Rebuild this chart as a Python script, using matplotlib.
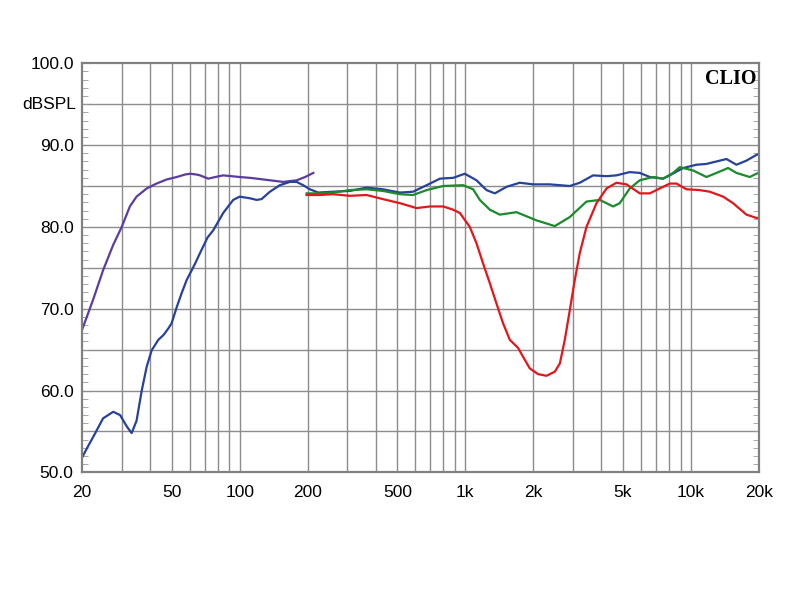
import matplotlib
matplotlib.use("Agg")
import matplotlib.pyplot as plt
from matplotlib.ticker import FixedLocator, NullFormatter, MultipleLocator

# ---- data ----
purple_f = [20, 22.4, 24.8, 27.5, 30.0, 32.6, 34.9, 38.7, 42.8, 47.5, 52.6, 57.2, 60.2, 64.5, 66.7, 72.6, 78, 84.5, 92, 100, 111, 119, 136, 156, 167, 179, 195, 212]
purple_db = [67.4, 71.1, 74.7, 77.8, 80.0, 82.5, 83.7, 84.7, 85.3, 85.8, 86.1, 86.4, 86.5, 86.4, 86.3, 85.9, 86.1, 86.3, 86.2, 86.1, 86.0, 85.9, 85.7, 85.5, 85.6, 85.7, 86.1, 86.6]

blue_f = [20, 21.0, 22.8, 24.8, 27.5, 29.5, 31.6, 33.2, 34.9, 36.8, 38.7, 40.7, 43.6, 46.0, 48.3, 49.9, 52.6, 55.3, 58.2, 63.4, 66.7, 72.0, 76.4, 84.5, 93.6, 100, 111, 118.9, 125, 136.1, 150.7, 167, 178.8, 191.2, 204.7, 222.9, 259, 308, 365, 431, 513, 587, 674, 772, 884, 995, 1121, 1242, 1352, 1523, 1744, 1998, 2369, 2905, 3217, 3685, 4226, 4678, 5358, 5935, 6574, 7529, 8061, 9233, 10586, 11722, 12981, 14375, 15918, 17626, 19516, 20000]
blue_db = [51.8, 52.9, 54.7, 56.6, 57.4, 57.0, 55.6, 54.8, 56.3, 60.0, 62.9, 64.9, 66.2, 66.8, 67.6, 68.2, 70.2, 71.9, 73.5, 75.5, 76.8, 78.7, 79.6, 81.7, 83.3, 83.7, 83.5, 83.3, 83.4, 84.3, 85.1, 85.5, 85.5, 85.1, 84.6, 84.2, 84.3, 84.4, 84.8, 84.6, 84.2, 84.3, 85.1, 85.9, 86.0, 86.5, 85.7, 84.5, 84.1, 84.9, 85.4, 85.2, 85.2, 85.0, 85.4, 86.3, 86.2, 86.3, 86.7, 86.6, 86.1, 85.9, 86.3, 87.2, 87.6, 87.7, 88.0, 88.3, 87.6, 88.1, 88.8, 88.9]

green_f = [198, 226.7, 259, 308, 365, 431, 513, 587, 674, 798, 978, 1083, 1160, 1285, 1422, 1687, 2068, 2493, 2905, 3445, 3946, 4520, 4838, 5358, 5935, 6798, 7529, 8335, 8925, 10229, 11722, 12981, 14620, 15918, 18237, 19516, 20000]
green_db = [84.1, 84.1, 84.2, 84.5, 84.6, 84.4, 84.0, 83.9, 84.5, 85.0, 85.1, 84.6, 83.3, 82.1, 81.5, 81.8, 80.8, 80.1, 81.2, 83.1, 83.3, 82.5, 82.9, 84.7, 85.7, 86.1, 85.9, 86.6, 87.3, 86.9, 86.1, 86.6, 87.2, 86.6, 86.1, 86.5, 86.6]

red_f = [198, 226.7, 259, 308, 365, 431, 513, 608, 697, 798, 884, 946, 1047, 1121, 1200, 1285, 1376, 1471, 1575, 1715, 1805, 1932, 2103, 2291, 2493, 2625, 2761, 2905, 3057, 3217, 3445, 3816, 4226, 4678, 5183, 5935, 6574, 7278, 8061, 8630, 9556, 10953, 12128, 13894, 15379, 17626, 19516, 20000]
red_db = [83.9, 83.9, 84.0, 83.8, 83.9, 83.4, 82.9, 82.3, 82.5, 82.5, 82.1, 81.7, 80.0, 78.0, 75.5, 73.1, 70.6, 68.2, 66.2, 65.2, 64.1, 62.7, 62.0, 61.8, 62.3, 63.3, 66.2, 69.8, 73.5, 76.8, 80.0, 82.9, 84.7, 85.4, 85.2, 84.1, 84.1, 84.7, 85.3, 85.3, 84.6, 84.5, 84.3, 83.7, 82.9, 81.5, 81.1, 81.1]

x_ticks = [20, 50, 100, 200, 500, 1000, 2000, 5000, 10000, 20000]
x_labels = ["20", "50", "100", "200", "500", "1k", "2k", "5k", "10k", "20k"]
y_ticks = [50, 60, 70, 80, 90, 100]
y_labels = ["50.0", "60.0", "70.0", "80.0", "90.0", "100.0"]

# ---- figure ----
plt.rcParams['font.family'] = ['Liberation Sans', 'DejaVu Sans']
fig = plt.figure(figsize=(8, 6), dpi=100)
ax = fig.add_axes([0.1025, 0.2128, 0.846, 0.6817])

ax.plot(purple_f, purple_db, color='#5a3d9e', lw=1.6)
ax.plot(blue_f, blue_db, color='#27429a', lw=1.6)
ax.plot(green_f, green_db, color='#1b8a2c', lw=1.6)
ax.plot(red_f, red_db, color='#e3161c', lw=1.6)

ax.set_xscale('log')
ax.set_xlim(20, 20000)
ax.set_ylim(50, 100)

# grid lines
vgrid = [30, 40, 50, 60, 70, 80, 90, 100, 200, 300, 400, 500, 600, 700, 800, 900,
         1000, 2000, 3000, 4000, 5000, 6000, 7000, 8000, 9000, 10000]
for v in vgrid:
    ax.axvline(v, color='#8c8c8c', lw=1.0, zorder=0)
for h in range(55, 100, 5):
    ax.axhline(h, color='#8c8c8c', lw=1.0, zorder=0)

ax.set_xticks(x_ticks)
ax.set_xticklabels(x_labels, fontsize=12.5)
ax.xaxis.set_minor_locator(FixedLocator([]))
ax.xaxis.set_minor_formatter(NullFormatter())
ax.tick_params(axis='x', length=0, pad=9)

ax.set_yticks(y_ticks)
ax.set_yticklabels(y_labels, fontsize=12.5)
ax.yaxis.set_minor_locator(MultipleLocator(1))
ax.tick_params(axis='y', which='major', length=0, pad=6)
ax.tick_params(axis='y', which='minor', direction='in', length=4, color='#999999',
               left=True, right=True)

ax.text(-0.008, 0.9, "dBSPL", transform=ax.transAxes, ha='right', va='center', fontsize=12.5)
ax.text(0.997, 0.985, "CLIO", transform=ax.transAxes, ha='right', va='top',
        fontsize=14.5, fontweight='bold', family='Liberation Serif')

for s in ax.spines.values():
    s.set_color('#808080')
    s.set_linewidth(1.6)

fig.savefig("out.png", dpi=100)
